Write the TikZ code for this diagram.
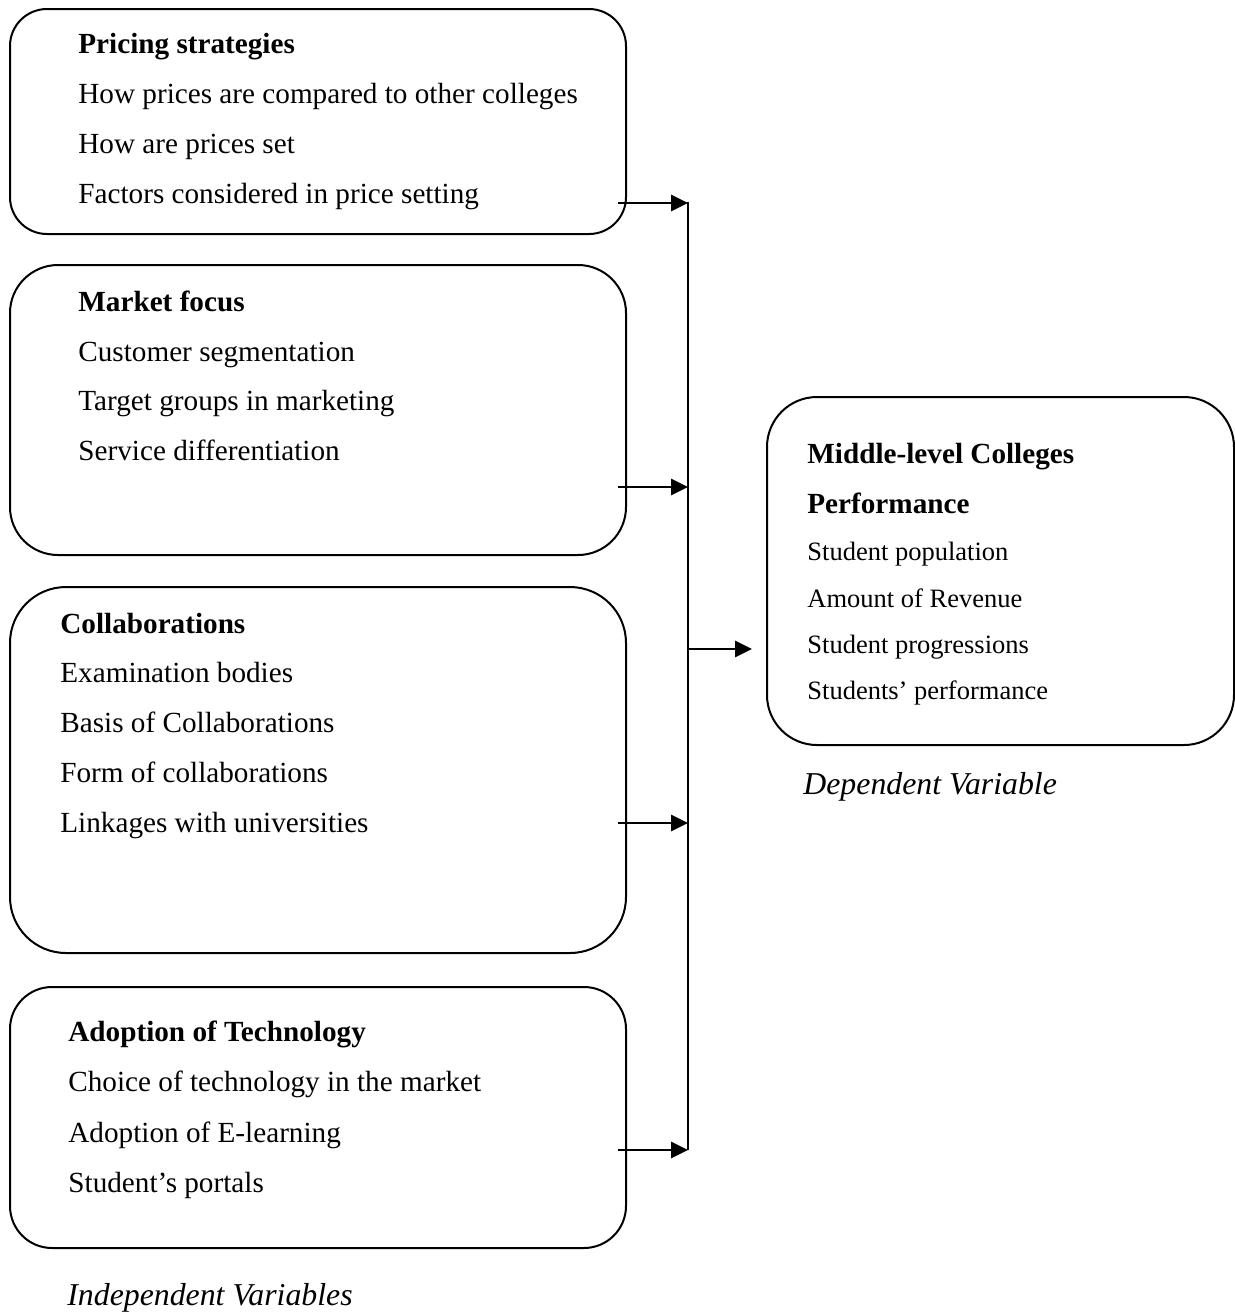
\documentclass[tikz,border=0pt]{standalone}
\usepackage{fontspec}
\setmainfont{Liberation Serif}
\usetikzlibrary{arrows.meta,calc}
\begin{document}
\begin{tikzpicture}[x=0.5pt,y=-0.5pt,
  box/.style={draw,line width=1pt,inner sep=0pt,minimum width=308pt},
  txt/.style={anchor=base west,inner sep=0pt,font=\fontsize{14.6pt}{17pt}\selectfont},
  hd/.style={anchor=base west,inner sep=0pt,font=\fontsize{14.6pt}{17pt}\selectfont\bfseries},
  rtxt/.style={anchor=base west,inner sep=0pt,font=\fontsize{13.25pt}{16pt}\selectfont},
  captxt/.style={anchor=base west,inner sep=0pt,font=\fontsize{15.9pt}{19pt}\selectfont\itshape},
  arr/.style={line width=1.4pt,-{Triangle[length=8.5pt,width=8pt]}},
  busline/.style={line width=1.3pt}]
\useasboundingbox (0,0) rectangle (1235,1314);

% boxes
\node[box,rounded corners=18.5pt,minimum height=112.5pt] (b1) at (318,121.5) {};
\node[box,rounded corners=24pt,minimum height=145pt] (b2) at (318,410) {};
\node[box,rounded corners=28pt,minimum height=183pt] (b3) at (318,770) {};
\node[box,rounded corners=21pt,minimum height=130.5pt] (b4) at (318,1117.5) {};
\node[box,rounded corners=25pt,minimum width=233.5pt,minimum height=174pt] (perf) at (1000.5,571) {};

% box 1 text
\node[hd]  (t1h) at (78,53)  {Pricing strategies};
\node[txt] (t1a) at (78,103) {How prices are compared to other colleges};
\node[txt] (t1b) at (78,153) {How are prices set};
\node[txt] (t1c) at (78,203) {Factors considered in price setting};

% box 2 text
\node[hd]  (t2h) at (78,311) {Market focus};
\node[txt] (t2a) at (78,361) {Customer segmentation};
\node[txt] (t2b) at (78,410) {Target groups in marketing};
\node[txt] (t2c) at (78,460) {Service differentiation};

% box 3 text
\node[hd]  (t3h) at (60,633) {Collaborations};
\node[txt] (t3a) at (60,682) {Examination bodies};
\node[txt] (t3b) at (60,732) {Basis of Collaborations};
\node[txt] (t3c) at (60,782) {Form of collaborations};
\node[txt] (t3d) at (60,832) {Linkages with universities};

% box 4 text
\node[hd]  (t4h) at (68,1041) {Adoption of Technology};
\node[txt] (t4a) at (68,1091) {Choice of technology in the market};
\node[txt] (t4b) at (68,1142) {Adoption of E-learning};
\node[txt] (t4c) at (68,1192) {Student’s portals};

% right box text
\node[hd]   (tph1) at (807,463) {Middle-level Colleges};
\node[hd]   (tph2) at (807,513) {Performance};
\node[rtxt] (tpa) at (807,560) {Student population};
\node[rtxt] (tpb) at (807,607) {Amount of Revenue};
\node[rtxt] (tpc) at (807,653) {Student progressions};
\node[rtxt] (tpd) at (807,699) {Students’ performance};

% captions
\node[captxt] (cdep) at (803,794) {Dependent Variable};
\node[captxt] (cind) at (67,1305) {Independent Variables};

% bus and arrows
\coordinate (busTop) at (688,202);
\coordinate (busBot) at (688,1150);
\draw[busline] (busTop) -- (busBot);

\coordinate (s1) at (618,203);
\coordinate (s2) at (618,487);
\coordinate (s3) at (618,823);
\coordinate (s4) at (618,1150);
\draw[arr] (s1) -- (s1 -| busTop);
\draw[arr] (s2) -- (s2 -| busTop);
\draw[arr] (s3) -- (s3 -| busTop);
\draw[arr] (s4) -- (s4 -| busTop);

\coordinate (mid) at (687,649);
\draw[arr,shorten >=7pt] (mid) -- (mid -| perf.west);
\end{tikzpicture}
\end{document}
